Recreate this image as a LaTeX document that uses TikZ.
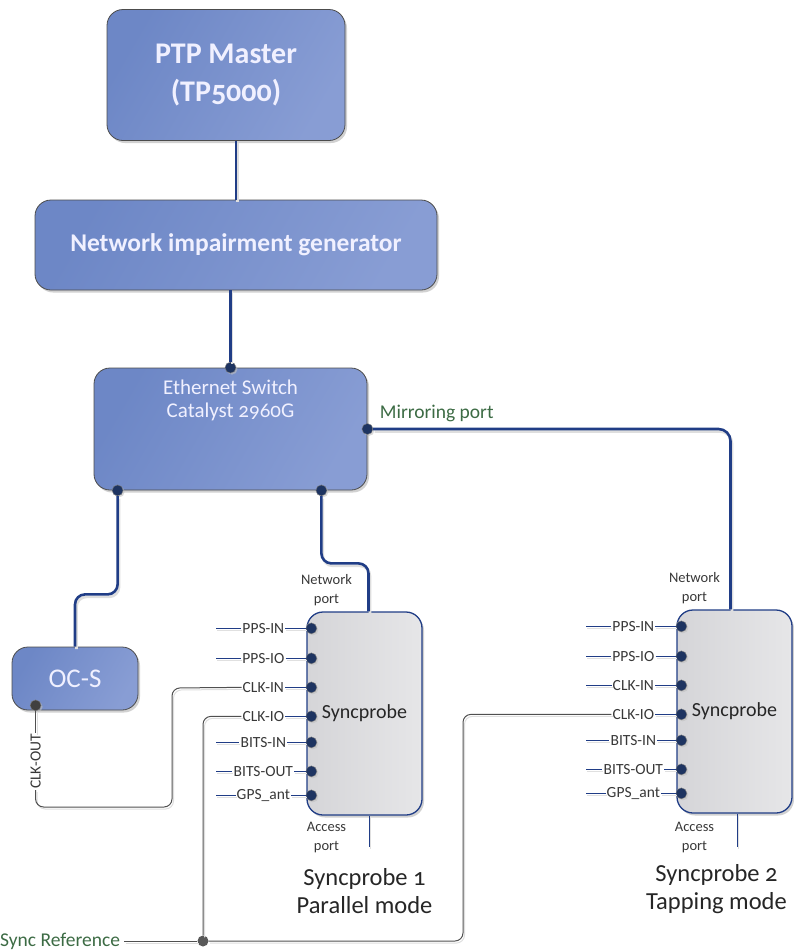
\documentclass[tikz,border=0pt]{standalone}
\usepackage{fontspec}
\setmainfont{Carlito}[Numbers=OldStyle]
\usepackage{xcolor}
\usetikzlibrary{positioning, calc, shadows}
\definecolor{boxa}{HTML}{6D87C6}
\definecolor{boxb}{HTML}{889DD4}
\definecolor{wire}{HTML}{203D86}
\definecolor{dotc}{HTML}{1E3461}
\definecolor{probea}{HTML}{D5D5D8}
\definecolor{probeb}{HTML}{E6E6E8}
\definecolor{lbl}{HTML}{383838}
\definecolor{mirror}{HTML}{3C6B44}
\definecolor{sigc}{HTML}{505050}

\begin{document}
\begin{tikzpicture}[x=1pt,y=-1pt,
  bluebox/.style={draw=black!70, line width=0.8pt, rounded corners=16pt, left color=boxa, right color=boxb,
    shading angle=60, text=white!94!blue, align=center,
    drop shadow={shadow xshift=2pt, shadow yshift=-2.5pt, fill=black!30, opacity=0.6}},
  probe/.style={draw=wire, line width=1.3pt, rounded corners=16pt, left color=probea, right color=probeb,
    minimum width=115pt, minimum height=203pt, font=\fontsize{20}{22}\selectfont, text=black!85,
    drop shadow={shadow xshift=2pt, shadow yshift=-2.5pt, fill=black!30, opacity=0.6}},
  wirel/.style={draw=wire, line width=2.6pt,
    preaction={draw=black!13, line width=2.6pt, transform canvas={shift={(1.5pt,-2.5pt)}}}},
  sigl/.style={draw=sigc, line width=1pt, rounded corners=8pt,
    preaction={draw=black!13, line width=1pt, transform canvas={shift={(1.5pt,-2pt)}}}},
  stub/.style={draw=wire, line width=1.1pt,
    preaction={draw=black!12, line width=1pt, transform canvas={shift={(1pt,-2pt)}}}},
  port/.style={circle, fill=dotc, draw=black!50, inner sep=0pt, minimum size=11pt,
    drop shadow={shadow xshift=1.5pt, shadow yshift=-1.5pt, fill=black!25, opacity=0.6}},
  plbl/.style={font=\fontsize{15.5}{16}\selectfont, text=lbl, inner sep=1pt},
  small/.style={font=\fontsize{14.5}{18.5}\selectfont, text=lbl, align=center},
  caption/.style={font=\fontsize{24.5}{28}\selectfont, text=black!85, align=center}
]
\useasboundingbox (0,0) rectangle (793,951);
% Boxes
\node[bluebox, minimum width=238pt, minimum height=131pt, font=\bfseries\fontsize{30}{38}\selectfont] (ptp) at (226,75) {PTP Master\\(TP5000)};
\node[bluebox, minimum width=402pt, minimum height=90pt, font=\bfseries\fontsize{25.5}{28}\selectfont] (nig) at (236,245) {Network impairment generator};
\node[bluebox, minimum width=273pt, minimum height=122pt] (sw) at (230.5,429) {};
\node[below=9pt of sw.north, text=white!94!blue, align=center, font=\fontsize{21}{23}\selectfont] (swtxt) {Ethernet Switch\\Catalyst 2960G};
\node[bluebox, minimum width=126pt, minimum height=63pt, font=\fontsize{27}{28}\selectfont] (oc) at (75,678.5) {OC-S};
\node[probe] (sp1) at (364.5,713.5) {Syncprobe};
\node[probe] (sp2) at (734.5,711.5) {Syncprobe};
% Switch ports
\node[port] (swtop) at (sw.north) {};
\node[port] (swmir) at (sw.east) {};
\node[port] (swl) at ($(sw.south west)+(24,0)$) {};
\node[port] (swr) at ($(sw.south east)+(-46,0)$) {};
\node[port, fill=black!75] (ocout) at ($(oc.south west)+(24,-5)$) {};
\coordinate (n1) at ($(sp1.north)+(4,0)$);
\coordinate (n2) at ($(sp2.north)+(-4,0)$);
% Network links
\draw[wirel] (ptp.south -| nig.north) -- (nig.north);
\draw[wirel] (nig.south -| swtop) -- (swtop);
\draw[wirel, rounded corners=12pt] (swmir) -| (n2);
\draw[wirel, rounded corners=10pt] (swl) -- ++(0,104) -| (oc.north);
\draw[wirel, rounded corners=10pt] (swr) -- ++(0,73) -| (n1);
\node[anchor=west, text=mirror, font=\fontsize{19.5}{20}\selectfont] (mirlbl) at ($(swmir)+(9,-16)$) {Mirroring port};
% Syncprobe ports
\foreach \p/\t/\dy in {ppsin/PPS-IN/17, ppsio/PPS-IO/47, clkin/CLK-IN/76, clkio/CLK-IO/105,
                      bitsin/BITS-IN/131, bitsout/BITS-OUT/160, gps/GPS\_ant/184}{
  \node[port] (a\p) at ($(sp1.north west)+(5,\dy)$) {};
  \node[plbl] (la\p) at ($(a\p)+(-48,0)$) {\t};
  \draw[stub] (la\p) -- (a\p);
  \node[port] (b\p) at ($(sp2.north west)+(5,\dy)$) {};
  \node[plbl] (lb\p) at ($(b\p)+(-48,0)$) {\t};
  \draw[stub] (lb\p) -- (b\p);
}
\foreach \p in {ppsin,ppsio,bitsin,bitsout,gps}
  \draw[stub] ($(a\p)+(-95,0)$) -- (la\p);
\foreach \p in {ppsin,ppsio,clkin,bitsin,bitsout,gps}
  \draw[stub] ($(b\p)+(-95,0)$) -- (lb\p);
% Port names
\node[small] (np1) at ($(sp1.north)+(-38,-21)$) {Network\\port};
\node[small] (np2) at ($(sp2.north)+(-40,-21)$) {Network\\port};
\node[small] (ap1) at ($(sp1.south)+(-38,22)$) {Access\\port};
\node[small] (ap2) at ($(sp2.south)+(-40,24)$) {Access\\port};
\draw[stub, line width=1.4pt] ($(sp1.south)+(5,0)$) -- ++(0,31);
\draw[stub, line width=1.4pt] ($(sp2.south)+(3,0)$) -- ++(0,33);
\node[caption] (cap1) at ($(sp1.south)+(0,75)$) {Syncprobe 1\\Parallel mode};
\node[caption] (cap2) at ($(sp2.south)+(-18,75)$) {Syncprobe 2\\Tapping mode};
% Clock from OC-S
\node[plbl, rotate=90] (cko) at ($(ocout)+(0,56)$) {CLK-OUT};
\draw[sigl] (ocout) -- (cko.east);
\draw[sigl] (cko.west) |- (172,807) -- (172,688) -- (laclkin.west);
% Sync reference
\node[anchor=west, text=mirror, font=\fontsize{19.5}{20}\selectfont, inner sep=0pt] (sref) at (0,941) {Sync Reference};
\node[circle, fill=black!65, inner sep=0pt, minimum size=11pt] (sj) at (203,941) {};
\draw[sigl] (sref.east) ++(4,0) -- (sj);
\draw[sigl] (sj) |- (laclkio.west);
\draw[sigl] (sj) -- (463,941) |- (lbclkio.west);
\end{tikzpicture}
\end{document}
